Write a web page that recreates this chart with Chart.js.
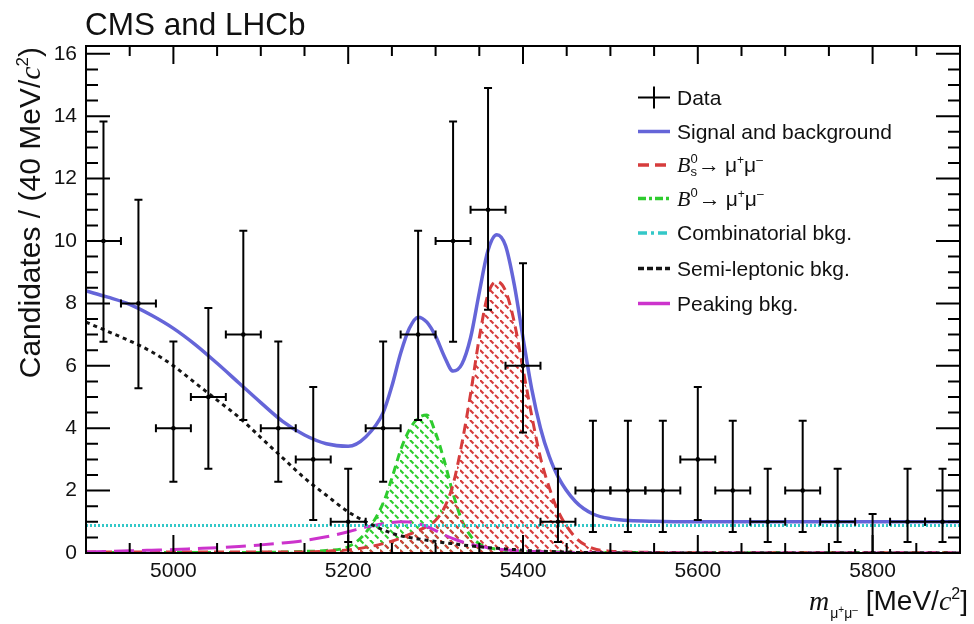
<!DOCTYPE html>
<html><head><meta charset="utf-8">
<script src="https://cdn.jsdelivr.net/npm/chart.js@4/dist/chart.umd.min.js"></script>
<style>html,body{margin:0;padding:0;background:#fff;overflow:hidden}canvas{display:block}</style>
</head><body>
<canvas id="c" width="974" height="624"></canvas>
<script>
// ---------- data ----------
const massBins = [4920,4960,5000,5040,5080,5120,5160,5200,5240,5280,5320,5360,5400,5440,5480,5520,5560,5600,5640,5680,5720,5760,5800,5840,5880];
const counts   = [10,8,4,5,7,4,3,1,4,7,10,11,6,1,2,2,2,3,2,1,2,1,0,1,1];
const errLow   = [6.77,5.28,2.28,2.7,4.26,2.28,1.06,0.35,2.28,4.26,6.77,7.8,3.86,0.35,0.67,0.67,0.67,1.06,0.67,0.35,0.67,0.35,0,0.35,0.35];
const errHigh  = [13.83,11.32,6.78,7.85,10.33,6.78,5.32,2.7,6.78,10.33,13.83,14.9,9.29,2.7,4.24,4.24,4.24,5.32,4.24,2.7,4.24,2.7,1.25,2.7,2.7];
const binHalfWidth = 20;

const fitMass  = [4900,4925,4950,4975,5000,5025,5050,5075,5100,5125,5150,5175,5200,5220,5240,5250,5260,5270,5280,5290,5300,5310,5320,5330,5340,5350,5360,5370,5380,5390,5400,5410,5420,5430,5440,5460,5480,5500,5550,5600,5700,5800,5900];
const fitTotal = [8.4,8.2,7.97,7.62,7.2,6.68,6.08,5.45,4.82,4.22,3.78,3.5,3.42,3.72,4.5,5.35,6.4,7.2,7.56,7.4,6.95,6.3,5.83,6.05,6.9,8.35,9.7,10.2,9.85,8.6,6.9,5.25,4.0,3.1,2.45,1.65,1.25,1.1,1.02,1.0,1.0,1.0,1.0];
const bsSignal = [0.03,0.03,0.03,0.03,0.03,0.03,0.03,0.03,0.03,0.03,0.03,0.06,0.1,0.18,0.3,0.38,0.48,0.6,0.72,0.85,1.05,1.45,2.2,3.5,5.1,6.9,8.3,8.7,8.4,7.4,5.9,4.4,3.05,2.1,1.35,0.5,0.15,0.06,0.02,0.01,0.01,0.01,0.01];
const bdSignal = [0.02,0.02,0.02,0.02,0.02,0.02,0.02,0.02,0.02,0.03,0.05,0.08,0.2,0.65,1.6,2.4,3.3,3.95,4.32,4.42,3.85,2.95,1.9,1.05,0.55,0.3,0.18,0.12,0.08,0.06,0.05,0.04,0.04,0.03,0.03,0.02,0.02,0.02,0.01,0.01,0.01,0.01,0.01];
const combBkg  = [0.88,0.88,0.88,0.88,0.88,0.88,0.88,0.88,0.88,0.88,0.88,0.88,0.88,0.88,0.88,0.88,0.88,0.88,0.88,0.88,0.88,0.88,0.88,0.88,0.88,0.88,0.88,0.88,0.88,0.88,0.88,0.88,0.88,0.88,0.88,0.88,0.88,0.88,0.88,0.88,0.88,0.88,0.88];
const semiBkg  = [7.4,7.1,6.8,6.45,6.0,5.45,4.9,4.35,3.7,3.05,2.4,1.85,1.32,1.0,0.74,0.63,0.55,0.5,0.45,0.41,0.37,0.33,0.3,0.26,0.23,0.2,0.17,0.15,0.13,0.11,0.09,0.07,0.06,0.05,0.04,0.02,0.01,0,0,0,0,0,0];
const peakBkg  = [0.03,0.05,0.07,0.09,0.11,0.14,0.17,0.21,0.26,0.32,0.4,0.52,0.68,0.83,0.94,0.98,1.0,0.99,0.94,0.85,0.72,0.58,0.46,0.36,0.28,0.22,0.17,0.13,0.1,0.08,0.06,0.05,0.04,0.03,0.02,0.01,0.01,0,0,0,0,0,0];

const xTicks = [5000,5200,5400,5600,5800];
const yTicks = [0,2,4,6,8,10,12,14,16];
const xMinorStep = 50, yMinorStep = 0.5;

// ---------- styling ----------
const SANS = '"Liberation Sans", Arial, Helvetica, sans-serif';
const SERIF = '"Liberation Serif", "Times New Roman", serif';
const C = { blue:'#6565d8', red:'#d63c3c', green:'#2ecc2e', cyan:'#33c8c8', black:'#151515', mag:'#cc33cc' };

function hatch(color){
  const s = 20, cv = document.createElement('canvas'); cv.width = s; cv.height = s;
  const g = cv.getContext('2d');
  g.strokeStyle = color; g.lineWidth = 2.1; g.setLineDash([4.9, 2.17]);
  g.beginPath();
  g.moveTo(0,0); g.lineTo(s,s);
  g.moveTo(s/2,0); g.lineTo(s,s/2);
  g.moveTo(0,s/2); g.lineTo(s/2,s);
  g.stroke();
  return g.createPattern(cv,'repeat');
}
const xy = (xs, ys) => xs.map((x,i)=>({x, y:ys[i]}));

function drawRuns(ctx, runs, x, y){
  let cx = x;
  for (const r of runs){
    ctx.font = r.font;
    ctx.fillText(r.t, cx + (r.dx||0), y + (r.dy||0));
    const w = ctx.measureText(r.t).width;
    if (!r.noAdv) cx += (r.dx||0) + w + (r.after||0);
  }
  return cx - x;
}
function runsWidth(ctx, runs){
  let w = 0;
  for (const r of runs){ ctx.font = r.font; if(!r.noAdv) w += (r.dx||0) + ctx.measureText(r.t).width + (r.after||0); }
  return w;
}

const decor = {
  id:'decor',
  afterDatasetsDraw(chart){
    const {ctx, chartArea:a, scales:{x, y}} = chart;
    ctx.save();
    ctx.beginPath(); ctx.rect(a.left, a.top, a.right-a.left, a.bottom-a.top); ctx.clip();
    ctx.strokeStyle = '#000'; ctx.lineWidth = 2; ctx.lineCap = 'butt';
    const cap = 4;
    massBins.forEach((m,i)=>{
      const px = x.getPixelForValue(m), py = y.getPixelForValue(counts[i]);
      const xl = x.getPixelForValue(m - binHalfWidth), xr = x.getPixelForValue(m + binHalfWidth);
      const yl = y.getPixelForValue(errLow[i]), yh = y.getPixelForValue(errHigh[i]);
      ctx.beginPath();
      ctx.moveTo(xl, py); ctx.lineTo(xr, py);
      ctx.moveTo(xl, py-cap); ctx.lineTo(xl, py+cap);
      ctx.moveTo(xr, py-cap); ctx.lineTo(xr, py+cap);
      ctx.moveTo(px, yl); ctx.lineTo(px, yh);
      ctx.moveTo(px-cap, yh); ctx.lineTo(px+cap, yh);
      ctx.moveTo(px-cap, yl); ctx.lineTo(px+cap, yl);
      ctx.stroke();
    });
    ctx.restore();
  },
  afterDraw(chart){
    const {ctx, chartArea:a, scales:{x, y}} = chart;
    ctx.save();
    // ticks inside frame
    ctx.strokeStyle = '#000'; ctx.lineWidth = 2;
    ctx.beginPath();
    for (let v = x.min; v <= x.max + 1e-6; v += xMinorStep){
      const px = x.getPixelForValue(v);
      const L = xTicks.includes(v) ? 18 : 10;
      ctx.moveTo(px, a.bottom); ctx.lineTo(px, a.bottom - L);
      ctx.moveTo(px, a.top); ctx.lineTo(px, a.top + L);
    }
    for (let v = 0; v <= y.max + 1e-6; v += yMinorStep){
      const py = y.getPixelForValue(v);
      const L = yTicks.includes(v) ? 24 : 12;
      ctx.moveTo(a.left, py); ctx.lineTo(a.left + L, py);
      ctx.moveTo(a.right, py); ctx.lineTo(a.right - L, py);
    }
    ctx.stroke();
    ctx.lineWidth = 2;
    ctx.strokeRect(a.left, a.top, a.right - a.left, a.bottom - a.top);

    ctx.fillStyle = '#111'; ctx.textBaseline = 'alphabetic'; ctx.textAlign = 'left';
    // main title
    ctx.font = '31.5px ' + SANS;
    ctx.fillText('CMS and LHCb', 85, 35);

    // x title
    const xr = [
      {t:'m', font:'italic 28px ' + SERIF, after:1},
      {t:'\u03bc', font:'14px ' + SANS, dy:8},
      {t:'+', font:'10px ' + SANS, dy:3},
      {t:'\u03bc', font:'14px ' + SANS, dy:8},
      {t:'\u2013', font:'10px ' + SANS, dy:3, after:8},
      {t:'[MeV/', font:'28px ' + SANS},
      {t:'c', font:'italic 28px ' + SERIF},
      {t:'2', font:'16px ' + SANS, dy:-11},
      {t:']', font:'28px ' + SANS}
    ];
    drawRuns(ctx, xr, 968 - runsWidth(ctx, xr), 610);

    // y title
    const yr = [
      {t:'Candidates / (40 MeV/', font:'30px ' + SANS},
      {t:'c', font:'italic 30px ' + SERIF},
      {t:'2', font:'17px ' + SANS, dy:-12},
      {t:')', font:'30px ' + SANS}
    ];
    ctx.save();
    ctx.translate(40, 47);
    ctx.rotate(-Math.PI/2);
    drawRuns(ctx, yr, -runsWidth(ctx, yr), 0);
    ctx.restore();

    // legend
    const lx0 = 638, lx1 = 670, tx = 677, rows = [97.5,131.5,165,198.5,233,268.5,303.5];
    const sym = (i, color, dash, w) => {
      ctx.save(); ctx.strokeStyle = color; ctx.lineWidth = w; ctx.setLineDash(dash);
      ctx.beginPath(); ctx.moveTo(lx0, rows[i]); ctx.lineTo(lx1, rows[i]); ctx.stroke(); ctx.restore();
    };
    ctx.save(); ctx.strokeStyle = '#000'; ctx.lineWidth = 2; ctx.beginPath();
    ctx.moveTo(lx0, rows[0]); ctx.lineTo(lx1, rows[0]);
    ctx.moveTo((lx0+lx1)/2, rows[0]-11); ctx.lineTo((lx0+lx1)/2, rows[0]+11); ctx.stroke(); ctx.restore();
    sym(1, C.blue, [], 3.5);
    sym(2, C.red, [11,6], 3.5);
    sym(3, C.green, [8,3,3,3], 3.5);
    sym(4, C.cyan, [9,4,3,4], 3.5);
    sym(5, C.black, [6,3], 3.5);
    sym(6, C.mag, [], 3.5);

    const F = '21px ' + SANS, base = 7;
    ctx.font = F;
    ctx.fillText('Data', tx, rows[0] + base);
    ctx.fillText('Signal and background', tx, rows[1] + base);
    const decay = [
      {t:'\u2192', font:'22px ' + SANS, after:5},
      {t:'\u03bc', font:F},
      {t:'+', font:'12px ' + SANS, dy:-8},
      {t:'\u03bc', font:F},
      {t:'\u2013', font:'12px ' + SANS, dy:-8}
    ];
    drawRuns(ctx, [
      {t:'B', font:'italic 22px ' + SERIF},
      {t:'0', font:'13px ' + SANS, dy:-9, noAdv:true},
      {t:'s', font:'13px ' + SANS, dy:4, after:1},
      ...decay], tx, rows[2] + base);
    drawRuns(ctx, [
      {t:'B', font:'italic 22px ' + SERIF},
      {t:'0', font:'13px ' + SANS, dy:-9, after:1},
      ...decay], tx, rows[3] + base);
    ctx.font = F;
    ctx.fillText('Combinatorial bkg.', tx, rows[4] + base);
    ctx.fillText('Semi-leptonic bkg.', tx, rows[5] + base);
    ctx.fillText('Peaking bkg.', tx, rows[6] + base);
    ctx.restore();
  }
};

const line = (ys, extra) => Object.assign({
  data: xy(fitMass, ys), showLine:true, pointRadius:0, borderWidth:3,
  cubicInterpolationMode:'monotone', fill:false
}, extra);

new Chart(document.getElementById('c').getContext('2d'), {
  type:'scatter',
  data:{ datasets:[
    { label:'Data', data: xy(massBins, counts), showLine:false, pointRadius:2.3,
      pointBackgroundColor:'#000', pointBorderWidth:0, order:0 },
    line(fitTotal, { label:'Signal and background', borderColor:C.blue, borderWidth:3.5, order:1 }),
    line(semiBkg,  { label:'Semi-leptonic bkg.', borderColor:C.black, borderDash:[4,4], order:2 }),
    line(combBkg,  { label:'Combinatorial bkg.', borderColor:C.cyan, borderDash:[2,2], order:3 }),
    line(peakBkg,  { label:'Peaking bkg.', borderColor:C.mag, borderDash:[20,8], order:4 }),
    line(bsSignal, { label:'Bs', borderColor:C.red, borderDash:[10,6], fill:'origin',
      backgroundColor: hatch('rgba(214,60,60,1)'), order:5 }),
    line(bdSignal, { label:'B0', borderColor:C.green, borderDash:[8,5], fill:'origin',
      backgroundColor: hatch('rgba(46,204,46,1)'), order:6 })
  ]},
  options:{
    responsive:false, animation:false, devicePixelRatio:1,
    layout:{ padding:{ left:0, right:14, top:46, bottom:0 } },
    scales:{
      x:{ type:'linear', min:4900, max:5900,
        afterFit(s){ s.height = 71; },
        afterBuildTicks(s){ s.ticks = xTicks.map(v=>({value:v})); },
        ticks:{ font:{family:SANS, size:21}, color:'#111', padding:6, maxRotation:0, autoSkip:false, callback:v=>String(v) },
        grid:{ display:false, drawTicks:false }, border:{ display:false } },
      y:{ type:'linear', min:0, max:16.25,
        afterFit(s){ s.width = 86; },
        afterBuildTicks(s){ s.ticks = yTicks.map(v=>({value:v})); },
        ticks:{ font:{family:SANS, size:21}, color:'#111', padding:9, callback:v=>String(v) },
        grid:{ display:false, drawTicks:false }, border:{ display:false } }
    },
    plugins:{ legend:{display:false}, tooltip:{enabled:false}, title:{display:false} }
  },
  plugins:[decor]
});
</script>
</body></html>
